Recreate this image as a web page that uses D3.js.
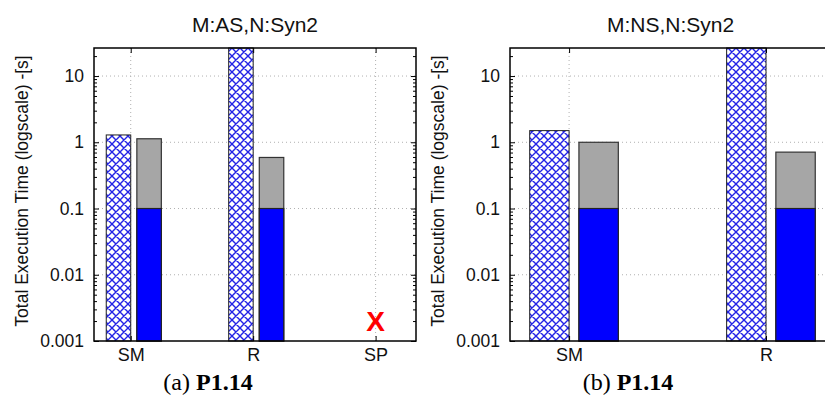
<!DOCTYPE html>
<html>
<head>
<meta charset="utf-8">
<script src="https://cdn.jsdelivr.net/npm/d3@7"></script>
<style>
  body { margin: 0; background: #fff; }
  svg { display: block; }
</style>
</head>
<body>
<div class="chart"></div>
<script>
// data
const categoriesA = ['SM', 'R', 'SP'];
const hatchA = [1.29, 30, null];
const totalA = [1.13, 0.59, null];
const blueA = [0.1, 0.1, null];
const missingA = [false, false, true];

const categoriesB = ['SM', 'R'];
const hatchB = [1.5, 30];
const totalB = [1.0, 0.71];
const blueB = [0.1, 0.1];
const missingB = [false, false];

const yTicks = [0.001, 0.01, 0.1, 1, 10];
const yTickLabels = ['0.001', '0.01', '0.1', '1', '10'];
const titles = ['M:AS,N:Syn2', 'M:NS,N:Syn2'];
const captionLetters = ['(a) ', '(b) '];
const captionBold = 'P1.14';
const yLabel = 'Total Execution Time (logscale) -[s]';

const width = 825;
const height = 409;
const sans = '"Liberation Sans", Arial, sans-serif';

const svg = d3.select('.chart')
    .append('svg')
    .attr('width', width)
    .attr('height', height);

// hatch fill
const defs = svg.append('defs');
const pat = defs.append('pattern')
    .attr('id', 'hatch')
    .attr('patternUnits', 'userSpaceOnUse')
    .attr('width', 8)
    .attr('height', 8);
pat.append('rect')
    .attr('width', 8)
    .attr('height', 8)
    .attr('fill', 'white');
pat.append('path')
    .attr('d', 'M0,0 L8,8 M8,0 L0,8 M-1,7 L1,9 M7,-1 L9,1 M-1,1 L1,-1 M7,9 L9,7')
    .attr('stroke', '#2323e6')
    .attr('stroke-width', 1.4);

const y = d3.scaleLog()
    .domain([0.001, 26.5])
    .range([341, 48])
    .clamp(true);

const minorTicks = [];
[0.001, 0.01, 0.1, 1, 10].forEach(d => {
    for (let k = 2; k <= 9; k++) {
        if (d * k <= 26.5) minorTicks.push(d * k);
    }
});

function drawPanel(p) {
    const x = d3.scaleLinear()
        .domain([-0.3, p.categories.length - 1 + 0.33])
        .range([p.left, p.right]);
    const g = svg.append('g');
    const top = y.range()[1];
    const bottom = y.range()[0];

    // grid lines
    g.selectAll('.hgrid')
        .data(yTicks.slice(1))
        .enter()
        .append('line')
        .attr('x1', p.left)
        .attr('x2', p.right)
        .attr('y1', d => y(d))
        .attr('y2', d => y(d))
        .attr('stroke', '#b0b0b0')
        .attr('stroke-width', 1)
        .attr('stroke-dasharray', '1,3');
    g.selectAll('.vgrid')
        .data(p.categories)
        .enter()
        .append('line')
        .attr('x1', (d, i) => x(i))
        .attr('x2', (d, i) => x(i))
        .attr('y1', top)
        .attr('y2', bottom)
        .attr('stroke', '#b0b0b0')
        .attr('stroke-width', 1)
        .attr('stroke-dasharray', '1,3');

    const bw = x(0.2) - x(0);
    const idx = d3.range(p.categories.length).filter(i => !p.missing[i]);

    // hatched bars
    g.selectAll('.hatch')
        .data(idx)
        .enter()
        .append('rect')
        .attr('x', i => x(i - 0.2))
        .attr('width', bw)
        .attr('y', i => y(p.hatch[i]))
        .attr('height', i => bottom - y(p.hatch[i]))
        .attr('fill', 'url(#hatch)')
        .attr('stroke', '#222')
        .attr('stroke-width', 1);

    // stacked bars: grey total, blue part
    g.selectAll('.total')
        .data(idx)
        .enter()
        .append('rect')
        .attr('x', i => x(i + 0.05))
        .attr('width', bw)
        .attr('y', i => y(p.total[i]))
        .attr('height', i => bottom - y(p.total[i]))
        .attr('fill', '#a6a6a6')
        .attr('stroke', '#333')
        .attr('stroke-width', 1.2);
    g.selectAll('.blue')
        .data(idx)
        .enter()
        .append('rect')
        .attr('x', i => x(i + 0.05))
        .attr('width', bw)
        .attr('y', i => y(p.blue[i]))
        .attr('height', i => bottom - y(p.blue[i]))
        .attr('fill', '#0000ff')
        .attr('stroke', '#222')
        .attr('stroke-width', 1.2);

    // missing marker
    g.selectAll('.miss')
        .data(d3.range(p.categories.length).filter(i => p.missing[i]))
        .enter()
        .append('text')
        .attr('x', i => x(i))
        .attr('y', bottom - 10)
        .attr('text-anchor', 'middle')
        .attr('font-family', sans)
        .attr('font-weight', 'bold')
        .attr('font-size', '28px')
        .attr('fill', '#ff0000')
        .text('X');

    // y axis, ticks inward
    const yAxis = d3.axisLeft(y)
        .tickValues(yTicks)
        .tickFormat((d, i) => yTickLabels[i])
        .tickSizeInner(-5)
        .tickSizeOuter(0)
        .tickPadding(10);
    const ay = g.append('g')
        .attr('transform', `translate(${p.left},0)`)
        .call(yAxis);
    ay.select('.domain').remove();
    ay.selectAll('text')
        .attr('font-family', sans)
        .attr('font-size', '17.5px')
        .attr('fill', '#111');
    g.append('g')
        .attr('transform', `translate(${p.left},0)`)
        .call(d3.axisLeft(y).tickValues(minorTicks).tickFormat('').tickSizeInner(-3).tickSizeOuter(0))
        .select('.domain').remove();
    g.append('g')
        .attr('transform', `translate(${p.right},0)`)
        .call(d3.axisRight(y).tickValues(yTicks).tickFormat('').tickSizeInner(-5).tickSizeOuter(0))
        .select('.domain').remove();
    g.append('g')
        .attr('transform', `translate(${p.right},0)`)
        .call(d3.axisRight(y).tickValues(minorTicks).tickFormat('').tickSizeInner(-3).tickSizeOuter(0))
        .select('.domain').remove();

    // x axis, category labels
    const xAxis = d3.axisBottom(x)
        .tickValues(d3.range(p.categories.length))
        .tickFormat(i => p.categories[i])
        .tickSizeInner(-5)
        .tickSizeOuter(0)
        .tickPadding(7);
    const ax = g.append('g')
        .attr('transform', `translate(0,${bottom})`)
        .call(xAxis);
    ax.select('.domain').remove();
    ax.selectAll('text')
        .attr('font-family', sans)
        .attr('font-size', '18px')
        .attr('fill', '#111');
    g.append('g')
        .attr('transform', `translate(0,${top})`)
        .call(d3.axisTop(x).tickValues(d3.range(p.categories.length)).tickFormat('').tickSizeInner(-5).tickSizeOuter(0))
        .select('.domain').remove();

    // frame
    g.append('rect')
        .attr('x', p.left)
        .attr('y', top)
        .attr('width', p.right - p.left)
        .attr('height', bottom - top)
        .attr('fill', 'none')
        .attr('stroke', '#000')
        .attr('stroke-width', 1.5);

    // title
    g.append('text')
        .attr('x', (p.left + p.right) / 2)
        .attr('y', 32)
        .attr('text-anchor', 'middle')
        .attr('font-family', sans)
        .attr('font-size', '21px')
        .attr('fill', '#111')
        .text(p.title);

    // y label
    g.append('text')
        .attr('transform', `translate(${p.labelX},191) rotate(-90)`)
        .attr('text-anchor', 'middle')
        .attr('font-family', sans)
        .attr('font-size', '17.5px')
        .attr('fill', '#111')
        .text(yLabel);

    // caption
    const cap = g.append('text')
        .attr('x', p.captionX)
        .attr('y', 390)
        .attr('text-anchor', 'middle')
        .attr('font-family', '"Liberation Serif", "Times New Roman", serif')
        .attr('font-size', '24px')
        .attr('fill', '#000');
    cap.append('tspan').text(p.caption);
    cap.append('tspan').attr('font-weight', 'bold').text(captionBold);
}

drawPanel({
    categories: categoriesA, hatch: hatchA, total: totalA, blue: blueA, missing: missingA,
    left: 94, right: 416, title: titles[0], labelX: 28, captionX: 208, caption: captionLetters[0]
});
drawPanel({
    categories: categoriesB, hatch: hatchB, total: totalB, blue: blueB, missing: missingB,
    left: 510, right: 831, title: titles[1], labelX: 444, captionX: 628, caption: captionLetters[1]
});
</script>
</body>
</html>
